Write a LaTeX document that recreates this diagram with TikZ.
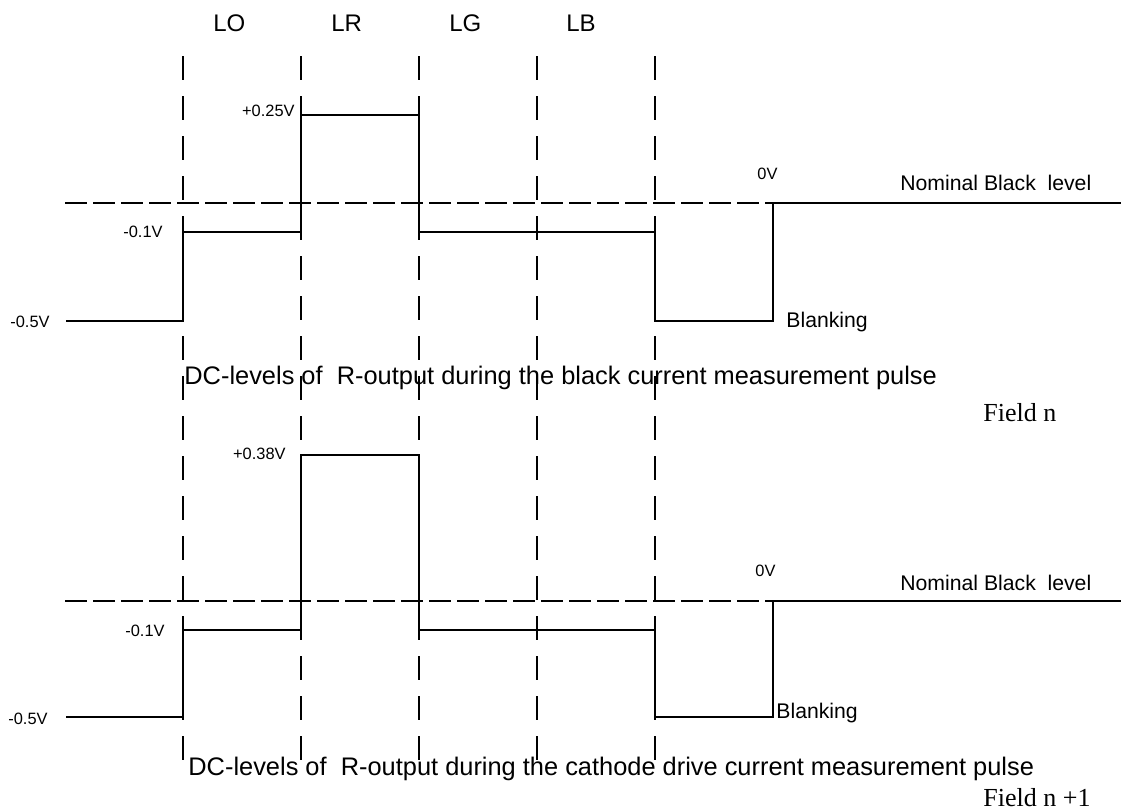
\documentclass[tikz,border=0pt]{standalone}
\usepackage{fontspec}
\setmainfont{Liberation Sans}
\newfontfamily\fieldfont{Liberation Serif}
\usetikzlibrary{positioning}

\tikzset{
  volt/.style={inner sep=0pt, font=\fontsize{8.2}{10}\selectfont},
  slot/.style={inner sep=0pt, anchor=base west, font=\fontsize{12}{14}\selectfont},
  note/.style={inner sep=0pt, font=\fontsize{10.6}{12}\selectfont},
  caption/.style={inner sep=0pt, anchor=base west, font=\fontsize{12.7}{15}\selectfont},
  field/.style={inner sep=0pt, anchor=base west, font=\fieldfont\fontsize{13}{15}\selectfont},
  wave/.style={line width=0.75pt},
  gridline/.style={line width=0.75pt, dash pattern=on 12pt off 8pt},
  blackline/.style={line width=0.75pt, dash pattern=on 11pt off 3pt}
}

\begin{document}
\begin{tikzpicture}[x=0.5pt,y=-0.5pt]
      \useasboundingbox (0,0) rectangle (1121,809);
      % Add the slot labels
      \node[slot] (lo) at (213,31) {LO};
      \node[slot] (lr) at (331,31) {LR};
      \node[slot] (lg) at (449,31) {LG};
      \node[slot] (lb) at (566,31) {LB};
      % Slot borders
      \foreach \x in {183,301,419,537,655}
        \draw[gridline] (\x,56) -- (\x,760);
      % Field n
      \draw[blackline] (65,203) -- (773,203);
      \draw[wave] (66,321) -- (183,321) -- (183,232) -- (301,232)
        -- (301,115) -- (419,115) -- (419,232) -- (655,232)
        -- (655,321) -- (773,321) -- (773,203) -- (1121,203);
      \node[volt, anchor=east] (hiA) at (295,111) {+0.25V};
      \node[volt, anchor=east] (midA) at (163,232) {-0.1V};
      \node[volt, anchor=east] (lowA) at (50,322) {-0.5V};
      \node[volt, anchor=west] (zeroA) at (757,174) {0V};
      \node[note, anchor=west] (nomA) at (900,183) {Nominal Black\ \ level};
      \node[note, anchor=base west] (blankA) at (786,327) {Blanking};
      \node[caption] (capA) at (184,384) {DC-levels of\ \ R-output during the black current measurement pulse};
      \node[field] (fieldA) at (983,421) {Field n};
      % Field n+1
      \draw[blackline] (65,601) -- (773,601);
      \draw[wave] (66,717) -- (183,717) -- (183,630) -- (301,630)
        -- (301,455) -- (419,455) -- (419,630) -- (655,630)
        -- (655,717) -- (773,717) -- (773,601) -- (1121,601);
      \node[volt, anchor=east] (hiB) at (286,454) {+0.38V};
      \node[volt, anchor=east] (midB) at (165,631) {-0.1V};
      \node[volt, anchor=east] (lowB) at (48,719) {-0.5V};
      \node[volt, anchor=west] (zeroB) at (755,571) {0V};
      \node[note, anchor=west] (nomB) at (900,583) {Nominal Black\ \ level};
      \node[note, anchor=base west] (blankB) at (776,718) {Blanking};
      \node[caption] (capB) at (188,775) {DC-levels of\ \ R-output during the cathode drive current measurement pulse};
      \node[field] (fieldB) at (983,806) {Field n +1};
\end{tikzpicture}
\end{document}
